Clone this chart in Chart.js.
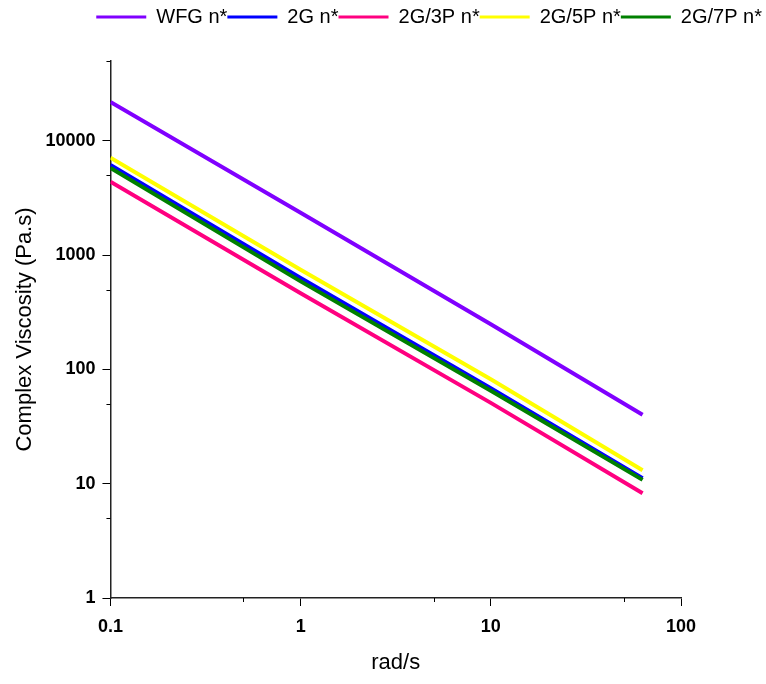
<!DOCTYPE html>
<html>
<head>
<meta charset="utf-8">
<script src="https://cdn.jsdelivr.net/npm/chart.js@4"></script>
<style>
  body { margin: 0; background: #fff; }
  .wrap { width: 766px; height: 684px; }
</style>
</head>
<body>
<div class="wrap"><canvas id="myChart"></canvas></div>
<script>
/* Data */
const freq = [0.1, 1, 10, 62.8];
const wfg = [21900, 2350, 249, 40.2];
const g2 = [6170, 630, 68.5, 11.15];
const g2p3 = [4400, 465, 51, 8.24];
const g2p5 = [7110, 745, 82, 13.1];
const g2p7 = [5800, 590, 65, 10.8];

const xTicks = [0.1, 1, 10, 100];
const yTicks = [1, 10, 100, 1000, 10000];
const xMinor = [0.5, 5, 50];
const yMinor = [5, 50, 500, 5000, 50000];

const FONT = "'Liberation Sans', Arial, sans-serif";

function pts (ys) {
  return freq.map(function (f, i) { return { x: f, y: ys[i] }; });
}

function series (label, ys, color, order) {
  return {
    label: label,
    data: pts(ys),
    borderColor: color,
    backgroundColor: color,
    borderWidth: 4,
    pointRadius: 0,
    tension: 0,
    order: order
  };
}

/* short ticks at 5x each decade */
const minorTicks = {
  id: 'minorTicks',
  afterDraw: function (chart) {
    const ctx = chart.ctx;
    const xs = chart.scales.x;
    const ys = chart.scales.y;
    ctx.save();
    ctx.strokeStyle = '#000';
    ctx.lineWidth = 1;
    ctx.beginPath();
    xMinor.forEach(function (v) {
      const px = Math.round(xs.getPixelForValue(v)) + 0.5;
      ctx.moveTo(px, ys.bottom);
      ctx.lineTo(px, ys.bottom + 4);
    });
    yMinor.forEach(function (v) {
      const py = Math.round(ys.getPixelForValue(v)) + 0.5;
      ctx.moveTo(xs.left - 4, py);
      ctx.lineTo(xs.left, py);
    });
    ctx.stroke();
    ctx.restore();
  }
};

const ctx = document.getElementById('myChart').getContext('2d');

const chart = new Chart(ctx, {
  type: 'line',
  data: {
    datasets: [
      series('WFG n*', wfg, '#8000FF', 5),
      series('2G n*', g2, '#0000FF', 4),
      series('2G/3P n*', g2p3, '#FF0080', 3),
      series('2G/5P n*', g2p5, '#FFFF00', 2),
      series('2G/7P n*', g2p7, '#008000', 1)
    ]
  },
  options: {
    responsive: true,
    maintainAspectRatio: false,
    animation: false,
    layout: { padding: { top: 7, left: 3, right: 4, bottom: 0 } },
    plugins: {
      tooltip: { enabled: false },
      legend: {
        position: 'top',
        align: 'end',
        labels: {
          boxWidth: 50,
          boxHeight: 3,
          padding: 0,
          color: '#000',
          font: { family: FONT, size: 20 },
          sort: function (a, b) { return a.datasetIndex - b.datasetIndex; },
          generateLabels: function (chart) {
            return Chart.defaults.plugins.legend.labels.generateLabels(chart).map(function (item) {
              item.lineWidth = 0;
              return item;
            });
          }
        }
      }
    },
    scales: {
      x: {
        type: 'logarithmic',
        min: 0.1,
        max: 100,
        afterBuildTicks: function (scale) {
          scale.ticks = xTicks.map(function (v) { return { value: v }; });
        },
        border: { display: true, color: '#222', width: 1.5 },
        grid: { drawOnChartArea: false, tickLength: 8, tickColor: '#000', tickWidth: 1 },
        ticks: {
          padding: 10,
          color: '#000',
          maxRotation: 0,
          font: { family: FONT, size: 18, weight: 'bold' },
          callback: function (v) { return String(v); }
        },
        title: {
          display: true,
          text: 'rad/s',
          color: '#000',
          font: { family: FONT, size: 22 },
          padding: { top: 2, bottom: 8 }
        }
      },
      y: {
        type: 'logarithmic',
        min: 1,
        max: 50000,
        afterBuildTicks: function (scale) {
          scale.ticks = yTicks.map(function (v) { return { value: v }; });
        },
        border: { display: true, color: '#222', width: 1.5 },
        grid: { drawOnChartArea: false, tickLength: 8, tickColor: '#000', tickWidth: 1 },
        ticks: {
          padding: 7,
          color: '#000',
          font: { family: FONT, size: 18, weight: 'bold' },
          callback: function (v) { return String(v); }
        },
        title: {
          display: true,
          text: 'Complex Viscosity (Pa.s)',
          color: '#000',
          font: { family: FONT, size: 22 },
          padding: { top: 9, bottom: 0 }
        }
      },
      /* spacers so the plot sits where the original does */
      top: {
        type: 'linear',
        position: 'top',
        grid: { display: false },
        border: { display: false },
        ticks: { display: false },
        afterFit: function (scale) { scale.height = 24; }
      },
      right: {
        type: 'linear',
        position: 'right',
        grid: { display: false },
        border: { display: false },
        ticks: { display: false },
        afterFit: function (scale) { scale.width = 81; }
      }
    }
  },
  plugins: [minorTicks]
});
</script>
</body>
</html>
